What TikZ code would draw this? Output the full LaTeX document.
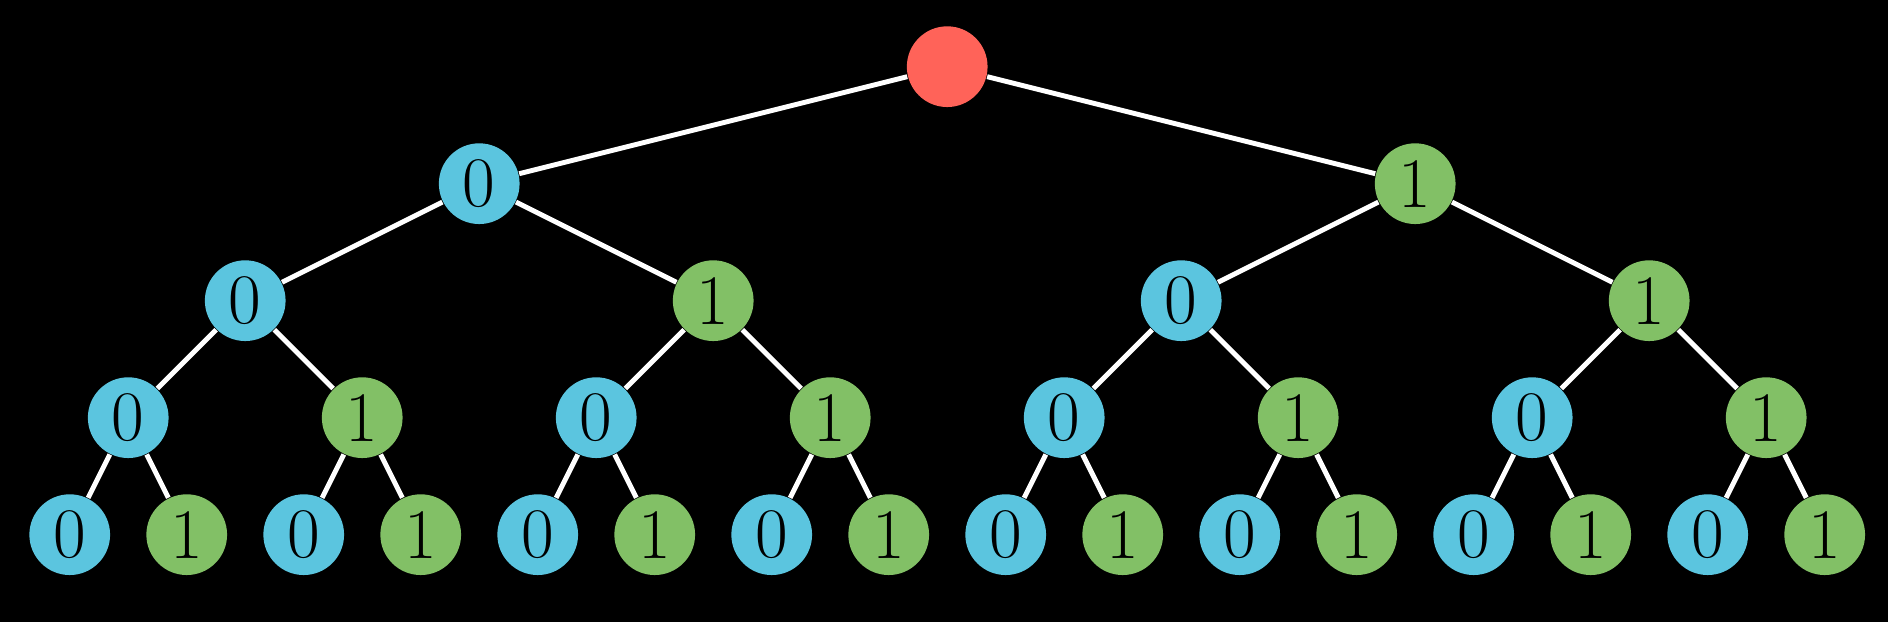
\documentclass[tikz,border=0pt]{standalone}
\usepackage{amsmath}
\definecolor{rootred}{HTML}{FF6359}
\definecolor{zeroblue}{HTML}{5BC5DF}
\definecolor{onegreen}{HTML}{82C066}

\begin{document}
\begin{tikzpicture}[font=\LARGE,
    bit/.style={circle, inner sep=0pt, minimum size=0.69cm},
    bit0/.style={bit, fill=zeroblue},
    bit1/.style={bit, fill=onegreen},
    edge/.style={white, line width=1.2pt}]
  % black page
  \fill[black] (-0.596,-0.745) rectangle (15.541,4.570);
  % root
  \node[bit, fill=rootred] (n0-0) at (7.5,4) {};
  % levels 1 to 4
  \foreach \l in {1,...,4} {
    \pgfmathtruncatemacro{\n}{2^\l-1}
    \pgfmathtruncatemacro{\w}{2^(4-\l)}
    \pgfmathtruncatemacro{\u}{\l-1}
    \foreach \i in {0,...,\n} {
      \pgfmathtruncatemacro{\p}{floor(\i/2)}
      \pgfmathtruncatemacro{\b}{mod(\i,2)}
      \pgfmathsetmacro{\x}{(\i+0.5)*\w-0.5}
      \node[bit\b] (n\l-\i) at (\x,4-\l) {\b};
      \draw[edge] (n\u-\p) -- (n\l-\i);
    }
  }
\end{tikzpicture}
\end{document}
